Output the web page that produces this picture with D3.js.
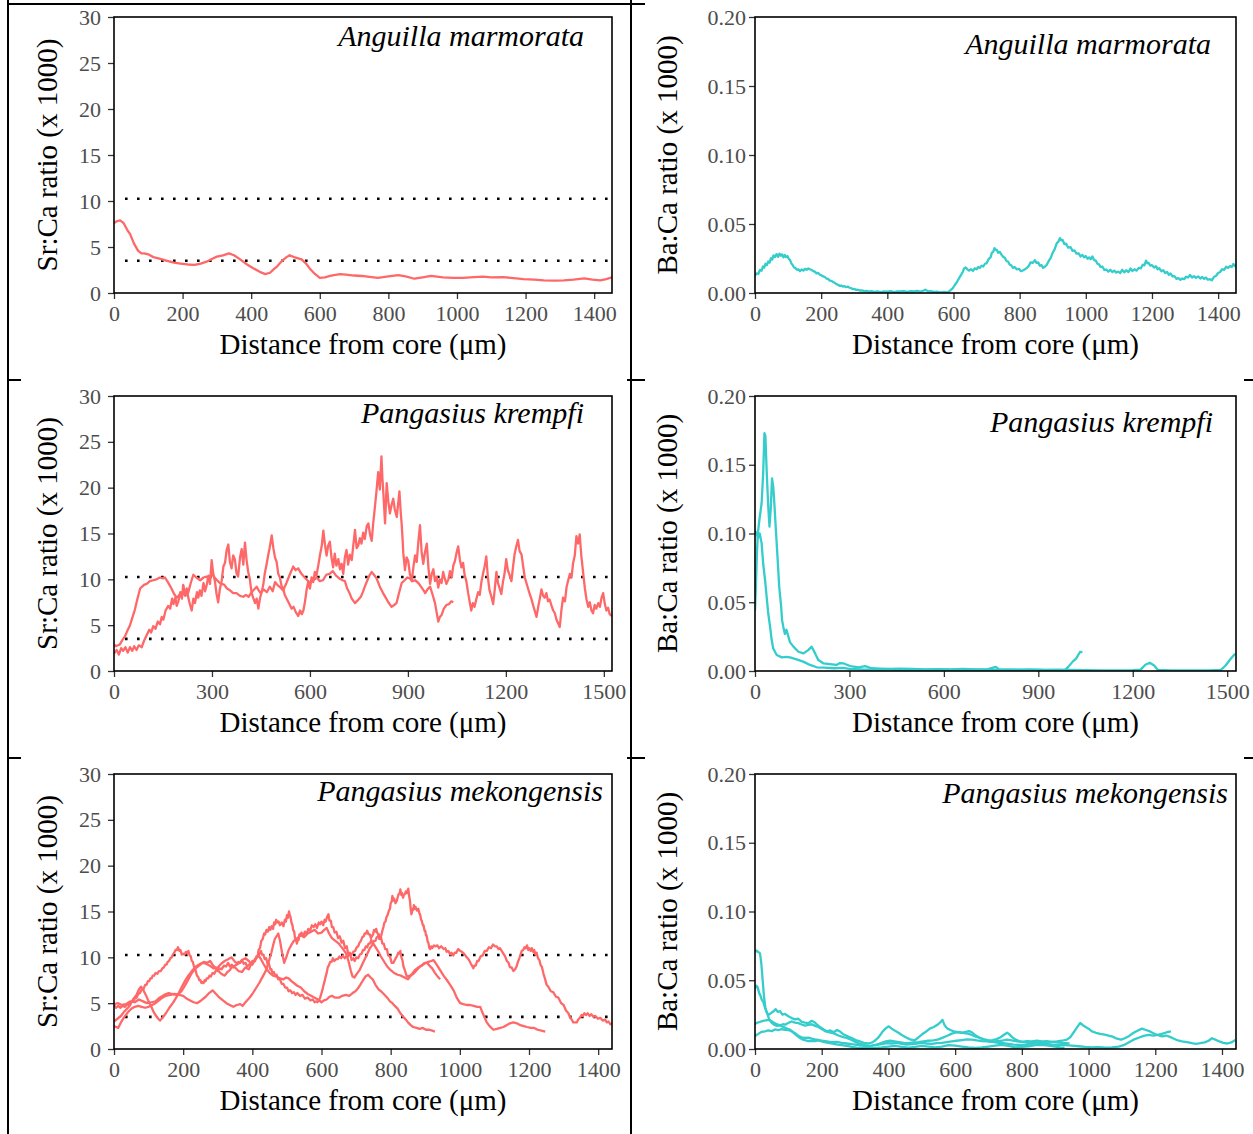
<!DOCTYPE html>
<html>
<head>
<meta charset="utf-8">
<script src="https://cdnjs.cloudflare.com/ajax/libs/d3/7.8.5/d3.min.js"></script>
<style>
body { margin: 0; background: #fff; }
svg text { font-family: "Liberation Serif", "Times New Roman", serif; }
</style>
</head>
<body>
<svg id="chart"></svg>
<script>
var width = 1253;
var height = 1134;

// tick values
var xTicks200 = [0, 200, 400, 600, 800, 1000, 1200, 1400];
var xTicks300 = [0, 300, 600, 900, 1200, 1500];
var srTicks = [0, 5, 10, 15, 20, 25, 30];
var baTicks = [0, 0.05, 0.10, 0.15, 0.20];
var srRefLines = [3.5, 10.25]; // dotted reference levels on the Sr:Ca panels

// Sr:Ca, Anguilla marmorata  [distance from core, ratio]
var srAnguilla = [[0,7.6],[8,7.8],[18,7.9],[28,7.6],[38,6.9],[47,6.4],[58,5.4],[70,4.6],[80,4.3],[88,4.3],[100,4.2],[115,3.9],[135,3.7],[155,3.5],[175,3.3],[194,3.2],[215,3.1],[235,3.05],[253,3.2],[270,3.4],[285,3.7],[300,3.95],[318,4.1],[335,4.3],[350,4.1],[370,3.6],[388,3.1],[406,2.7],[425,2.3],[441,2.05],[455,2.2],[466,2.6],[476,2.9],[490,3.5],[503,3.9],[512,4.1],[525,3.9],[547,3.65],[560,3.2],[570,2.7],[585,2.1],[600,1.65],[615,1.7],[630,1.85],[641,1.95],[660,2.05],[676,2.0],[700,1.9],[723,1.85],[745,1.75],[770,1.65],[800,1.8],[829,1.95],[850,1.8],[876,1.55],[900,1.7],[924,1.85],[959,1.7],[990,1.65],[1018,1.65],[1050,1.72],[1076,1.78],[1100,1.7],[1135,1.72],[1165,1.62],[1194,1.5],[1225,1.45],[1253,1.37],[1285,1.35],[1312,1.37],[1340,1.45],[1371,1.6],[1395,1.45],[1418,1.37],[1435,1.5],[1452,1.7]];

// Ba:Ca, Anguilla marmorata
var baAnguilla = [[0,0.0126],[5,0.0142],[10,0.0138],[15,0.0168],[20,0.0162],[24,0.0192],[28,0.0185],[32,0.0212],[36,0.0202],[40,0.0228],[44,0.022],[48,0.0252],[52,0.0242],[56,0.0272],[60,0.026],[65,0.0282],[70,0.0262],[74,0.0285],[78,0.027],[82,0.028],[86,0.0258],[90,0.0275],[94,0.026],[98,0.0268],[102,0.0248],[106,0.0238],[110,0.0215],[114,0.0202],[118,0.0185],[122,0.0182],[127,0.0168],[131,0.0172],[136,0.0158],[141,0.017],[146,0.0162],[151,0.0175],[156,0.0168],[161,0.0178],[166,0.0172],[171,0.0168],[176,0.0158],[181,0.0155],[186,0.0142],[191,0.0145],[196,0.0132],[201,0.0128],[206,0.012],[211,0.0116],[216,0.0105],[221,0.0102],[226,0.009],[231,0.0088],[236,0.008],[241,0.0074],[246,0.0064],[251,0.006],[256,0.0052],[261,0.0054],[266,0.0046],[271,0.0049],[276,0.0042],[281,0.0046],[286,0.0038],[291,0.0035],[296,0.0028],[301,0.0029],[306,0.0022],[311,0.0024],[316,0.0018],[323,0.0019],[330,0.0013],[338,0.0015],[345,0.001],[352,0.0013],[360,0.0008],[370,0.0011],[380,0.0006],[390,0.0012],[400,0.001],[410,0.0014],[420,0.0007],[430,0.0012],[440,0.0011],[450,0.0014],[460,0.0008],[470,0.0013],[480,0.0011],[490,0.0015],[500,0.001],[508,0.0016],[515,0.0024],[520,0.0016],[525,0.0011],[532,0.0013],[540,0.0008],[550,0.001],[560,0.0005],[570,0.0008],[581,0.0004],[587,0.0012],[592,0.0022],[598,0.0035],[604,0.0058],[610,0.0078],[617,0.0108],[622,0.0128],[628,0.0152],[632,0.0178],[637,0.0185],[642,0.0172],[647,0.0162],[653,0.0172],[659,0.016],[664,0.0178],[670,0.0172],[675,0.0188],[680,0.0182],[685,0.0198],[690,0.0192],[695,0.0212],[700,0.0215],[706,0.0245],[712,0.0258],[716,0.0292],[720,0.0298],[724,0.0325],[727,0.0315],[731,0.0312],[735,0.0292],[740,0.0298],[745,0.0278],[750,0.0262],[755,0.0255],[760,0.0232],[765,0.0228],[770,0.0205],[774,0.0202],[780,0.0182],[785,0.0188],[791,0.0172],[798,0.0175],[804,0.0158],[811,0.0165],[816,0.0172],[822,0.0182],[828,0.0198],[833,0.0222],[840,0.0218],[846,0.0238],[851,0.0218],[856,0.0222],[861,0.0198],[866,0.0202],[871,0.0182],[876,0.019],[882,0.0205],[888,0.0232],[894,0.0255],[900,0.0292],[906,0.0318],[912,0.036],[917,0.0372],[922,0.0398],[926,0.0382],[930,0.0385],[935,0.0355],[940,0.0358],[947,0.0328],[954,0.0332],[960,0.0305],[966,0.0308],[972,0.0285],[978,0.0288],[984,0.0265],[990,0.0275],[995,0.0258],[1000,0.0268],[1005,0.0248],[1010,0.0258],[1015,0.0245],[1020,0.0265],[1025,0.0238],[1030,0.0235],[1035,0.0212],[1040,0.0208],[1045,0.0188],[1050,0.0192],[1056,0.0168],[1062,0.017],[1068,0.0155],[1074,0.0168],[1080,0.0152],[1086,0.0162],[1092,0.0148],[1098,0.0155],[1104,0.0145],[1110,0.0168],[1116,0.015],[1123,0.0165],[1129,0.0152],[1135,0.0178],[1141,0.016],[1147,0.0172],[1153,0.0162],[1160,0.0182],[1166,0.0178],[1172,0.0205],[1177,0.02],[1182,0.0235],[1186,0.0215],[1190,0.0218],[1195,0.0198],[1200,0.0202],[1206,0.0185],[1212,0.0195],[1217,0.0172],[1222,0.018],[1228,0.0158],[1234,0.0165],[1240,0.0145],[1246,0.0152],[1251,0.0132],[1256,0.0142],[1262,0.012],[1268,0.0122],[1274,0.0102],[1280,0.0108],[1286,0.0096],[1291,0.0105],[1297,0.01],[1303,0.0118],[1309,0.0112],[1315,0.013],[1321,0.0112],[1327,0.0122],[1333,0.011],[1340,0.012],[1346,0.0105],[1352,0.0116],[1358,0.0102],[1363,0.0112],[1369,0.0096],[1375,0.01],[1381,0.0092],[1388,0.0118],[1394,0.0125],[1400,0.0145],[1406,0.0152],[1412,0.0172],[1418,0.0168],[1424,0.019],[1430,0.0182],[1436,0.0195],[1441,0.0188],[1446,0.021],[1450,0.0196],[1454,0.02]];

// Sr:Ca, Pangasius krempfi (two fish)
var srKrempfiA = [[0,1.9],[8,2.3],[15,1.8],[22,2.5],[28,2.2],[35,2.6],[42,2.0],[49,2.6],[56,2.2],[62,2.7],[69,2.3],[76,2.8],[85,2.6],[92,3.3],[100,3.9],[108,4.5],[114,4.2],[120,4.9],[127,4.6],[134,5.4],[141,5.1],[146,5.9],[151,5.6],[158,6.6],[166,7.1],[172,6.8],[178,7.9],[182,7.3],[188,8.0],[192,7.1],[197,7.6],[203,8.6],[208,7.9],[212,9.4],[218,8.4],[223,9.0],[228,7.9],[233,7.2],[238,6.6],[243,7.9],[248,7.4],[254,8.6],[258,8.0],[263,8.8],[268,8.2],[274,9.6],[279,8.7],[284,9.4],[289,10.4],[294,9.5],[299,12.1],[304,10.6],[309,9.8],[314,8.4],[319,7.5],[324,8.9],[330,9.9],[335,11.4],[340,11.8],[345,13.2],[350,13.8],[355,11.9],[360,11.2],[365,12.6],[370,12.2],[375,10.7],[380,10.3],[386,12.4],[391,13.3],[396,11.6],[401,14.0],[406,12.1],[411,10.8],[416,10.0],[421,8.6],[426,8.0],[432,7.4],[437,7.9],[442,6.8],[447,7.9],[452,8.6],[457,9.4],[462,10.7],[467,11.6],[472,12.6],[477,13.5],[483,14.8],[488,13.4],[493,12.4],[498,11.9],[503,10.6],[508,10.2],[513,9.3],[518,9.0],[523,8.3],[530,7.8],[537,7.3],[544,6.8],[550,7.0],[557,6.4],[564,6.0],[570,6.6],[575,6.2],[580,6.6],[585,7.6],[590,8.9],[595,9.8],[600,9.0],[605,10.2],[610,9.7],[615,10.8],[620,10.4],[626,11.6],[631,12.7],[636,13.6],[641,15.3],[646,13.8],[651,12.6],[656,13.7],[661,14.1],[666,12.4],[671,11.3],[676,12.8],[681,11.5],[687,12.2],[692,11.1],[697,11.7],[702,10.6],[707,12.4],[712,13.2],[717,11.6],[722,12.7],[728,12.1],[733,13.8],[738,15.4],[743,13.4],[748,13.7],[753,14.5],[758,13.9],[763,15.1],[768,14.4],[774,15.8],[779,16.1],[784,14.9],[789,14.2],[794,16.2],[799,17.9],[804,19.7],[809,21.7],[814,19.8],[819,23.4],[822,21.0],[825,19.3],[828,17.4],[830,16.1],[833,18.6],[835,20.5],[840,18.5],[845,17.2],[850,18.1],[855,18.8],[860,17.6],[866,16.8],[870,18.2],[874,19.6],[878,17.3],[881,16.0],[884,14.2],[886,12.8],[889,11.8],[891,11.0],[896,12.4],[901,12.0],[906,10.6],[912,9.8],[917,11.4],[922,12.6],[927,11.9],[932,14.1],[937,15.9],[942,13.0],[947,11.7],[952,12.9],[958,13.9],[963,11.2],[968,9.5],[973,10.6],[978,11.1],[983,9.8],[988,10.3],[993,9.1],[998,10.0],[1003,9.6],[1008,10.8],[1013,10.1],[1018,9.5],[1024,10.0],[1029,10.9],[1034,10.2],[1039,11.5],[1044,12.0],[1049,12.9],[1054,13.6],[1059,12.2],[1064,11.3],[1069,11.8],[1074,10.4],[1079,9.8],[1084,8.6],[1089,7.6],[1094,6.6],[1099,7.4],[1104,7.0],[1110,7.9],[1115,8.6],[1120,8.3],[1125,9.7],[1130,10.6],[1135,11.4],[1140,12.5],[1145,10.2],[1150,8.8],[1155,8.2],[1161,7.3],[1166,8.9],[1171,10.8],[1176,9.6],[1181,9.0],[1186,8.4],[1191,9.7],[1196,10.6],[1201,12.2],[1206,11.0],[1212,10.4],[1217,9.8],[1222,11.4],[1227,12.8],[1232,13.6],[1237,14.3],[1242,13.1],[1248,12.7],[1253,11.4],[1258,10.2],[1263,9.6],[1268,9.0],[1273,8.4],[1278,7.9],[1284,7.1],[1289,6.5],[1294,5.9],[1299,7.0],[1304,7.9],[1309,8.9],[1314,8.2],[1319,8.0],[1324,8.5],[1329,7.6],[1334,7.8],[1340,7.1],[1345,6.6],[1350,6.3],[1355,5.6],[1360,5.2],[1365,4.8],[1370,6.6],[1375,8.0],[1381,7.6],[1386,9.2],[1391,9.9],[1396,10.6],[1401,10.2],[1406,11.8],[1411,12.6],[1416,14.7],[1421,13.9],[1426,14.9],[1431,12.6],[1437,10.6],[1442,9.0],[1447,7.8],[1452,7.0],[1457,7.5],[1462,6.6],[1467,6.3],[1472,7.2],[1477,6.8],[1483,7.4],[1488,7.0],[1493,8.0],[1498,8.5],[1503,7.3],[1508,6.6],[1513,6.9],[1518,6.2],[1524,6.0]];
var srKrempfiB = [[0,2.9],[6,2.7],[12,2.8],[18,2.9],[26,3.4],[34,3.8],[41,4.4],[49,5.0],[56,5.8],[64,6.7],[72,7.9],[80,9.0],[86,9.2],[92,9.4],[100,9.5],[110,9.8],[120,9.9],[130,10.0],[141,10.2],[150,10.1],[156,10.2],[165,9.7],[176,9.0],[184,8.4],[192,8.0],[200,8.3],[210,8.6],[218,8.2],[227,8.5],[235,9.6],[243,10.5],[252,10.2],[264,9.9],[274,10.2],[284,10.3],[292,10.0],[300,10.6],[310,10.1],[324,9.6],[338,9.4],[346,9.0],[355,8.8],[365,8.5],[375,8.5],[386,8.2],[396,8.1],[404,8.3],[412,8.1],[424,8.7],[437,9.2],[443,8.8],[449,8.5],[458,8.9],[468,8.6],[477,9.2],[486,8.7],[493,9.7],[500,9.4],[510,9.1],[518,8.8],[528,9.6],[538,10.5],[549,11.4],[556,11.0],[564,11.2],[574,10.6],[584,10.2],[592,9.9],[600,9.6],[610,9.9],[621,10.2],[630,9.8],[640,9.9],[650,10.5],[660,10.6],[670,10.9],[680,10.4],[690,10.1],[700,9.9],[707,9.8],[714,9.0],[720,8.6],[728,7.9],[738,7.4],[746,7.7],[756,8.1],[762,8.6],[768,9.2],[776,9.9],[782,10.4],[789,10.8],[796,10.5],[804,10.1],[814,9.2],[824,8.5],[832,8.0],[840,7.5],[850,7.0],[858,7.2],[865,7.4],[872,8.4],[881,9.6],[890,9.9],[898,10.2],[906,10.1],[914,9.8],[922,9.9],[932,9.6],[940,9.2],[948,8.8],[953,8.5],[960,8.9],[968,9.2],[975,8.4],[983,7.4],[988,6.4],[993,5.4],[998,5.9],[1003,6.1],[1010,6.8],[1018,7.2],[1026,7.3],[1033,7.6],[1039,7.5]];

// Ba:Ca, Pangasius krempfi
var baKrempfiA = [[0,0.044],[3,0.062],[6,0.085],[9,0.1],[14,0.11],[21,0.122],[26,0.144],[30,0.173],[33,0.171],[37,0.146],[42,0.12],[46,0.105],[50,0.118],[54,0.14],[58,0.134],[62,0.12],[67,0.1],[72,0.081],[77,0.061],[83,0.047],[86,0.037],[90,0.032],[95,0.027],[100,0.03],[106,0.025],[111,0.021],[122,0.0177],[138,0.014],[154,0.0128],[169,0.0152],[180,0.0177],[191,0.0128],[201,0.008],[217,0.0056],[238,0.005],[259,0.0044],[270,0.0058],[280,0.0056],[302,0.0036],[330,0.0027],[350,0.0035],[370,0.002],[400,0.0018],[430,0.0015],[460,0.0018],[500,0.0015],[540,0.0012],[580,0.0013],[620,0.0012],[660,0.0015],[700,0.0012],[740,0.0013],[765,0.003],[775,0.0012],[820,0.001],[870,0.0012],[920,0.0008],[960,0.001],[1000,0.0008],[1050,0.0006],[1100,0.0005],[1150,0.0005],[1200,0.0006],[1225,0.001],[1240,0.0045],[1254,0.006],[1268,0.004],[1280,0.0008],[1320,0.0004],[1380,0.0005],[1440,0.0005],[1480,0.0008],[1495,0.004],[1510,0.0085],[1525,0.0125]];
var baKrempfiB = [[0,0.102],[5,0.1],[10,0.097],[15,0.1],[21,0.093],[26,0.078],[32,0.066],[37,0.054],[42,0.042],[48,0.032],[53,0.0225],[58,0.0164],[69,0.0116],[85,0.0099],[100,0.0102],[111,0.0099],[132,0.0085],[153,0.0068],[175,0.0044],[196,0.0027],[220,0.0025],[250,0.002],[280,0.0022],[300,0.0015],[350,0.001],[400,0.0012],[450,0.0008],[500,0.001],[550,0.0008],[600,0.0009],[650,0.0007],[700,0.001],[750,0.0008],[800,0.0009],[850,0.0007],[900,0.0008],[950,0.0007],[985,0.0008],[995,0.003],[1010,0.007],[1020,0.009],[1033,0.014],[1040,0.0135]];

// Sr:Ca, Pangasius mekongensis (four fish)
var srMekong1 = [[0,3.0],[10,3.3],[20,3.6],[30,4.1],[45,4.7],[55,5.4],[65,5.9],[72,6.5],[78,6.8],[85,6.4],[92,5.9],[100,5.2],[108,4.6],[115,4.0],[122,3.6],[128,3.3],[133,3.1],[140,3.4],[150,3.9],[160,4.5],[170,5.0],[178,5.5],[186,6.0],[195,6.7],[205,7.4],[215,8.0],[225,8.5],[237,9.0],[250,9.3],[260,9.5],[270,9.4],[278,9.6],[285,9.2],[292,8.9],[300,8.6],[310,8.2],[320,8.0],[328,8.4],[335,8.6],[343,9.1],[350,8.9],[360,8.5],[370,8.4],[380,8.9],[390,8.7],[398,9.4],[405,9.6],[412,10.0],[418,10.2],[425,9.8],[432,9.3],[440,8.8],[450,8.3],[460,8.0],[470,7.9],[480,7.7],[490,7.6],[498,7.8],[505,7.7],[513,7.4],[520,7.2],[530,6.9],[540,6.7],[550,6.3],[560,6.0],[570,5.8],[580,5.6],[590,5.4],[600,5.1],[607,5.3],[615,5.4],[623,5.7],[630,5.8],[640,5.6],[650,5.6],[660,5.8],[670,5.9],[680,5.8],[690,6.1],[698,6.3],[705,6.6],[712,7.0],[720,7.5],[727,7.9],[735,8.1],[742,7.8],[748,7.6],[756,7.0],[765,6.5],[772,6.3],[780,6.0],[790,5.6],[798,5.2],[805,5.0],[812,4.7],[820,4.4],[828,3.9],[837,3.5],[844,3.2],[850,2.9],[858,2.6],[865,2.4],[875,2.3],[884,2.2],[893,2.3],[902,2.1],[912,2.1],[920,2.0],[928,1.9]];
var srMekong2 = [[0,4.8],[6,4.5],[12,4.7],[18,4.5],[25,4.7],[32,4.6],[38,4.9],[44,4.8],[50,5.1],[55,5.2],[60,5.5],[65,5.6],[70,6.0],[75,6.1],[80,6.5],[85,6.5],[90,7.0],[94,7.0],[98,7.4],[102,7.4],[105,7.7],[109,7.7],[112,8.0],[116,8.0],[120,8.3],[125,8.2],[130,8.5],[135,8.5],[140,8.8],[144,8.9],[148,9.2],[152,9.2],[155,9.5],[159,9.6],[163,9.9],[167,10.0],[170,10.3],[174,10.5],[178,10.8],[182,10.8],[185,11.1],[189,10.7],[192,10.8],[196,10.3],[200,10.4],[204,10.3],[208,10.6],[212,10.4],[215,10.7],[219,10.2],[222,10.1],[225,9.6],[228,9.5],[232,8.9],[236,8.6],[240,8.0],[243,7.9],[247,7.5],[250,7.5],[253,7.2],[255,7.3],[259,7.2],[262,7.5],[265,7.4],[268,7.7],[272,7.7],[276,8.0],[280,7.9],[285,8.3],[290,8.2],[295,8.6],[300,8.5],[305,8.8],[311,8.7],[318,9.1],[324,9.0],[330,9.4],[335,9.0],[340,9.2],[345,8.9],[350,9.1],[355,9.2],[360,9.5],[365,9.4],[370,9.7],[375,9.3],[380,9.4],[385,9.0],[390,9.2],[395,9.3],[400,9.6],[405,9.6],[410,9.9],[414,10.0],[418,10.4],[421,10.4],[425,10.7],[428,10.3],[432,10.3],[436,9.8],[440,9.9],[444,9.3],[448,9.3],[452,8.7],[455,8.7],[458,8.3],[462,8.4],[466,8.0],[470,8.1],[475,7.6],[480,7.6],[485,7.1],[490,7.1],[495,6.7],[500,6.7],[505,6.3],[510,6.4],[515,6.1],[520,6.2],[525,5.9],[530,6.1],[538,5.8],[545,5.9],[552,5.5],[560,5.6],[568,5.3],[575,5.4],[580,5.1],[585,5.2],[588,5.1],[592,5.3],[596,5.6],[600,6.1],[603,6.5],[606,7.0],[609,7.4],[612,7.9],[615,8.3],[618,8.9],[621,9.1],[625,9.5],[629,9.5],[633,9.9],[637,9.6],[642,9.8],[647,9.8],[652,10.1],[657,9.9],[662,10.2],[667,9.9],[672,10.1],[677,10.1],[682,10.4],[687,10.3],[692,10.6],[697,10.7],[702,11.1],[706,11.2],[710,11.6],[714,11.8],[718,12.2],[722,12.3],[725,12.6],[729,12.6],[732,12.9],[736,12.5],[740,12.5],[743,12.1],[746,12.3],[749,12.5],[752,13.0],[755,12.8],[758,13.1],[761,12.7],[764,12.5],[767,12.0],[770,12.1],[773,12.4],[776,12.9],[779,13.3],[782,13.8],[785,13.9],[788,14.4],[791,14.6],[795,15.1],[798,15.3],[800,15.9],[803,16.1],[805,16.7],[808,16.2],[810,16.4],[814,15.9],[818,16.2],[820,16.5],[823,16.9],[826,17.0],[828,17.4],[831,16.8],[833,17.0],[836,16.5],[838,16.8],[841,16.9],[844,17.2],[847,17.0],[851,17.5],[853,16.8],[856,16.1],[858,15.2],[860,14.7],[862,15.0],[864,15.3],[866,15.2],[867,15.7],[870,15.3],[872,15.5],[876,15.1],[880,15.3],[883,14.8],[885,14.7],[888,14.1],[890,14.0],[893,13.5],[895,13.5],[898,12.9],[900,12.9],[902,12.4],[904,12.4],[907,11.7],[909,11.6],[912,11.0],[914,10.9],[917,11.2],[920,11.0],[925,11.3],[929,11.2],[935,11.3],[940,11.0],[946,11.2],[953,10.9],[958,11.0],[962,10.6],[967,10.7],[972,10.3],[976,10.5],[981,10.2],[985,10.5],[990,10.5],[995,10.9],[1001,10.7],[1006,10.6],[1012,10.4],[1018,10.1],[1025,9.8],[1028,9.6],[1032,9.3],[1035,9.1],[1039,8.8],[1042,9.1],[1046,9.1],[1050,9.6],[1054,9.6],[1060,10.1],[1066,10.2],[1072,10.7],[1078,10.7],[1084,11.1],[1090,11.0],[1096,11.4],[1102,11.2],[1107,11.2],[1112,10.9],[1116,11.0],[1121,10.7],[1126,10.4],[1131,10.1],[1136,9.6],[1141,9.4],[1145,8.9],[1150,8.9],[1155,8.5],[1160,8.7],[1164,9.0],[1168,9.5],[1173,10.0],[1179,10.7],[1183,10.8],[1187,11.1],[1191,11.0],[1194,11.3],[1198,10.8],[1201,11.0],[1205,10.7],[1208,11.0],[1212,10.6],[1215,10.8],[1219,10.3],[1222,10.5],[1226,9.9],[1230,9.7],[1234,9.1],[1237,9.0],[1242,8.2],[1246,7.7],[1251,7.0],[1256,6.8],[1263,6.3],[1270,6.2],[1278,5.7],[1285,5.6],[1293,5.0],[1300,4.8],[1307,4.2],[1314,3.9],[1319,3.4],[1324,3.2],[1328,2.9],[1333,2.9],[1338,2.9],[1342,3.2],[1347,3.4],[1352,3.7],[1356,3.6],[1360,3.9],[1365,3.7],[1370,3.9],[1375,3.6],[1380,3.8],[1386,3.5],[1392,3.6],[1399,3.3],[1406,3.4],[1413,3.1],[1420,3.2],[1425,2.9],[1430,3.0],[1435,2.7],[1440,2.8]];
var srMekong3 = [[0,4.9],[12,5.0],[22,4.8],[35,4.9],[48,5.2],[60,5.1],[72,5.4],[84,5.2],[96,5.0],[108,5.1],[120,5.2],[132,5.6],[145,5.9],[158,6.1],[170,6.0],[182,5.9],[195,6.3],[205,6.9],[215,7.6],[225,8.3],[236,8.8],[246,9.1],[256,9.4],[266,9.3],[276,9.1],[288,8.8],[300,8.9],[310,9.3],[320,9.6],[330,9.8],[340,10.0],[350,9.5],[360,9.3],[370,9.7],[380,9.9],[390,9.6],[400,9.2],[404,9.5],[408,9.6],[412,10.1],[415,10.0],[418,10.8],[422,11.0],[426,11.8],[430,12.0],[434,12.6],[437,12.5],[441,13.0],[445,12.8],[449,13.3],[452,13.0],[456,13.4],[460,13.1],[463,13.8],[466,13.6],[469,14.1],[472,13.8],[476,13.9],[480,13.5],[485,13.8],[490,13.4],[494,14.1],[497,13.9],[500,14.6],[503,14.3],[506,15.0],[508,14.7],[511,14.3],[513,13.8],[516,13.5],[518,13.0],[521,12.8],[523,12.2],[526,11.9],[529,11.5],[532,12.0],[534,11.9],[536,12.5],[538,12.4],[542,12.7],[547,12.3],[552,12.8],[557,12.6],[562,13.1],[567,12.9],[572,13.5],[577,13.3],[582,13.6],[587,13.2],[592,13.8],[596,13.6],[600,13.9],[605,13.5],[609,14.1],[612,13.9],[616,14.4],[620,14.7],[623,14.0],[627,14.0],[630,13.3],[634,13.3],[638,12.7],[643,12.8],[648,12.1],[653,12.3],[658,11.6],[663,11.8],[668,11.0],[673,11.2],[677,10.4],[682,10.5],[687,9.7],[692,9.9],[696,9.6],[701,10.0],[706,9.9],[711,10.3],[716,10.4],[720,10.8],[724,10.8],[728,11.2],[732,11.1],[736,11.5],[740,11.5],[744,11.9],[748,11.5],[752,11.8],[756,11.8],[760,12.2],[763,12.2],[766,12.5],[769,12.0],[772,12.2],[776,11.5],[780,11.5],[784,10.9],[789,10.9],[793,10.2],[798,10.1],[803,9.4],[808,9.4],[812,9.7],[816,10.0],[819,10.2],[822,10.5],[825,10.4],[828,10.7],[831,10.0],[834,9.7],[837,9.0],[840,8.7],[847,7.9],[856,8.0],[866,8.2],[875,8.6],[885,9.0],[897,9.3],[909,9.5],[917,9.6],[924,9.7],[933,9.2],[943,8.6],[953,8.0],[963,7.5],[972,7.0],[982,6.4],[991,5.6],[1001,5.0],[1010,4.9],[1020,4.8],[1030,4.8],[1040,4.7],[1050,4.6],[1059,4.6],[1065,4.0],[1072,3.4],[1078,2.9],[1086,2.5],[1097,2.1],[1107,2.2],[1117,2.3],[1126,2.4],[1135,2.6],[1145,2.8],[1155,2.9],[1165,2.8],[1175,2.6],[1185,2.5],[1194,2.4],[1205,2.3],[1215,2.3],[1225,2.1],[1236,2.0],[1247,1.9]];
var srMekong4 = [[0,2.5],[6,2.4],[12,2.3],[20,2.9],[30,3.5],[40,4.0],[50,4.4],[60,4.6],[70,4.7],[80,4.6],[90,4.5],[100,4.6],[110,4.8],[120,5.0],[130,5.3],[140,5.6],[150,5.8],[162,5.9],[175,6.0],[188,5.9],[200,5.8],[210,5.5],[220,5.3],[230,5.1],[240,5.0],[252,5.3],[265,5.7],[275,6.1],[285,6.4],[295,6.0],[305,5.6],[315,5.3],[325,5.0],[335,4.8],[345,4.6],[355,4.8],[365,4.9],[372,4.7],[380,5.1],[390,5.5],[400,6.0],[410,6.6],[420,7.2],[430,7.9],[440,8.6],[448,9.6],[455,10.5],[460,11.3],[465,12.0],[470,12.3],[475,12.6],[480,11.8],[486,10.5],[492,9.4],[498,10.0],[505,10.8],[512,11.3],[520,11.8],[530,12.1],[540,12.4],[550,12.2],[560,12.6],[570,12.8],[580,13.0],[590,12.6],[600,12.7],[608,13.0],[615,13.2],[622,12.6],[630,12.1],[640,11.8],[650,11.5],[660,11.0],[670,10.5],[678,9.6],[685,8.5],[690,7.9],[695,7.8],[702,8.2],[710,8.6],[720,9.4],[730,10.2],[740,11.0],[750,11.5],[758,11.0],[765,10.6],[770,10.2],[780,9.6],[790,9.0],[800,8.6],[810,8.3],[820,8.1],[830,8.0],[840,7.8],[850,7.6],[860,8.1],[870,8.6],[880,8.9],[890,9.1],[898,9.4],[905,9.4],[912,9.1],[920,8.8],[928,8.3],[936,7.9],[943,7.6]];

// Ba:Ca, Pangasius mekongensis
var baMekong1 = [[0,0.0095],[10,0.011],[20,0.0125],[30,0.0128],[40,0.0135],[50,0.013],[60,0.0142],[70,0.0138],[80,0.0145],[90,0.014],[100,0.0138],[110,0.0128],[120,0.0115],[130,0.0095],[140,0.0085],[150,0.008],[160,0.0082],[170,0.0075],[180,0.007],[190,0.0066],[200,0.006],[215,0.0055],[230,0.005],[245,0.0052],[260,0.0045],[275,0.004],[290,0.0035],[305,0.003],[320,0.0025],[335,0.0022],[350,0.0025],[365,0.003],[380,0.0035],[395,0.0042],[410,0.004],[425,0.0045],[440,0.0038],[455,0.0032],[470,0.0035],[485,0.004],[500,0.0045],[515,0.004],[530,0.0038],[545,0.0042],[560,0.0045],[575,0.005],[590,0.0055],[605,0.006],[620,0.0065],[635,0.007],[650,0.0068],[665,0.0062],[680,0.0058],[695,0.0055],[710,0.0052],[725,0.0058],[740,0.006],[755,0.0068],[770,0.0062],[785,0.0055],[800,0.0052],[815,0.0058],[830,0.0055],[845,0.006],[860,0.0055],[875,0.0058],[890,0.0052],[905,0.0055],[920,0.006],[935,0.0068],[945,0.0085],[955,0.012],[965,0.0155],[975,0.019],[982,0.0175],[990,0.0162],[1000,0.0148],[1010,0.0128],[1022,0.0118],[1035,0.011],[1048,0.0105],[1060,0.0098],[1072,0.009],[1085,0.0075],[1098,0.0068],[1110,0.008],[1122,0.0095],[1135,0.0118],[1148,0.0135],[1160,0.0148],[1172,0.0138],[1184,0.0128],[1196,0.0112],[1208,0.01],[1220,0.0092],[1232,0.0098],[1244,0.0088],[1256,0.0075],[1268,0.0062],[1280,0.0055],[1295,0.005],[1310,0.0042],[1322,0.0038],[1335,0.0042],[1348,0.0048],[1360,0.006],[1370,0.0078],[1380,0.0068],[1392,0.0055],[1404,0.0045],[1416,0.004],[1428,0.0048],[1440,0.0065]];
var baMekong2 = [[0,0.071],[5,0.0715],[10,0.0705],[15,0.0695],[19,0.062],[23,0.05],[27,0.038],[31,0.03],[36,0.026],[42,0.025],[50,0.0265],[56,0.0275],[62,0.029],[68,0.027],[75,0.0275],[82,0.025],[90,0.0255],[100,0.0238],[110,0.0225],[120,0.0215],[130,0.022],[140,0.0198],[150,0.0192],[160,0.0188],[170,0.0205],[178,0.0195],[186,0.0178],[196,0.0158],[206,0.0142],[216,0.0128],[226,0.0135],[236,0.0122],[246,0.0138],[256,0.0125],[266,0.0105],[278,0.0092],[290,0.008],[302,0.0065],[314,0.0055],[326,0.0045],[340,0.004],[352,0.0048],[362,0.0065],[372,0.009],[382,0.0125],[392,0.015],[400,0.0165],[410,0.0148],[420,0.0132],[430,0.0118],[440,0.0102],[452,0.0085],[465,0.007],[478,0.0062],[490,0.0085],[500,0.0105],[512,0.0125],[524,0.0148],[536,0.016],[548,0.0178],[556,0.0195],[562,0.0212],[568,0.0175],[576,0.015],[586,0.0138],[596,0.0128],[608,0.0122],[620,0.0118],[632,0.0125],[642,0.013],[652,0.0118],[662,0.0098],[674,0.008],[688,0.0065],[702,0.0055],[716,0.005],[730,0.0045],[745,0.0042],[760,0.0038],[775,0.0032],[790,0.003],[810,0.0028],[830,0.003],[850,0.0035],[870,0.0038],[890,0.0032],[910,0.003],[930,0.0028],[950,0.0025],[970,0.002],[990,0.0015],[1010,0.0012],[1030,0.0014],[1050,0.001],[1070,0.0012],[1090,0.0018],[1105,0.0028],[1120,0.0048],[1135,0.0068],[1150,0.0082],[1165,0.0095],[1180,0.0102],[1195,0.0098],[1210,0.0105],[1222,0.0112],[1235,0.0122],[1247,0.0128]];
var baMekong3 = [[0,0.044],[4,0.046],[8,0.045],[12,0.041],[16,0.039],[20,0.036],[25,0.034],[30,0.03],[35,0.027],[42,0.022],[50,0.019],[58,0.0175],[66,0.0168],[75,0.0172],[84,0.018],[92,0.0178],[100,0.019],[110,0.02],[120,0.0192],[130,0.0188],[140,0.0178],[150,0.017],[160,0.0176],[170,0.018],[180,0.0168],[190,0.016],[200,0.0145],[210,0.013],[220,0.0122],[230,0.0118],[240,0.011],[250,0.0098],[262,0.0088],[275,0.008],[288,0.0068],[300,0.0052],[312,0.004],[325,0.003],[338,0.0022],[350,0.0025],[365,0.0032],[380,0.0045],[392,0.0055],[405,0.006],[418,0.0055],[432,0.005],[446,0.0045],[460,0.0042],[475,0.0048],[490,0.005],[505,0.0055],[520,0.006],[535,0.0062],[550,0.007],[565,0.0085],[578,0.0098],[590,0.0112],[602,0.012],[614,0.0122],[626,0.0115],[638,0.0112],[650,0.0102],[662,0.009],[675,0.008],[688,0.007],[700,0.0062],[712,0.0065],[724,0.0072],[736,0.0085],[748,0.0105],[756,0.0118],[762,0.0108],[770,0.0088],[780,0.007],[792,0.0058],[805,0.005],[818,0.0045],[832,0.0042],[846,0.0048],[860,0.005],[875,0.0046],[890,0.0052],[905,0.0048],[920,0.0044],[932,0.0042],[943,0.004]];
var baMekong4 = [[0,0.0182],[8,0.0192],[16,0.0198],[24,0.0205],[32,0.0208],[40,0.0212],[48,0.0205],[56,0.0192],[64,0.0182],[72,0.0175],[80,0.0165],[88,0.0158],[96,0.0148],[104,0.0142],[112,0.0128],[120,0.0108],[128,0.0092],[136,0.0078],[144,0.0068],[152,0.0062],[160,0.0058],[170,0.006],[180,0.0058],[190,0.0062],[200,0.0055],[212,0.0048],[224,0.0042],[236,0.0038],[248,0.0032],[260,0.0028],[275,0.0022],[290,0.0015],[305,0.001],[320,0.0008],[340,0.0006],[360,0.0008],[380,0.0012],[400,0.0018],[420,0.0022],[440,0.0015],[460,0.001],[480,0.0015],[500,0.0022],[520,0.0018],[540,0.0012],[560,0.0018],[580,0.0028],[600,0.0025],[620,0.0018],[640,0.0012],[660,0.0008],[680,0.0012],[700,0.0018],[720,0.0025],[740,0.003],[760,0.0022],[780,0.0012],[800,0.0015],[820,0.002],[840,0.0028],[860,0.003],[880,0.0025],[900,0.0018],[915,0.0012],[928,0.001]];

var srColor = "#ff6868";
var baColor = "#35cccc";

// one entry per panel: plot box, axis limits, titles and which traces go in it
var panels = [
    {left: 114, right: 612, top: 17, bottom: 293, xMax: 1452, xTicks: xTicks200, yMax: 30, yTicks: srTicks, yFmt: "d", labelGap: 7,
     yTitle: "Sr:Ca ratio (x 1000)", titleX: 57, species: "Anguilla marmorata", spX: 584, spY: 46,
     series: [srAnguilla], color: srColor, refs: srRefLines},
    {left: 755, right: 1236, top: 17, bottom: 293, xMax: 1454, xTicks: xTicks200, yMax: 0.2, yTicks: baTicks, yFmt: ".2f", labelGap: 3,
     yTitle: "Ba:Ca ratio (x 1000)", titleX: 677, species: "Anguilla marmorata", spX: 1211, spY: 54,
     series: [baAnguilla], color: baColor, refs: []},
    {left: 114, right: 612, top: 396, bottom: 671, xMax: 1525, xTicks: xTicks300, yMax: 30, yTicks: srTicks, yFmt: "d", labelGap: 7,
     yTitle: "Sr:Ca ratio (x 1000)", titleX: 57, species: "Pangasius krempfi", spX: 584, spY: 423,
     series: [srKrempfiB, srKrempfiA], color: srColor, refs: srRefLines},
    {left: 755, right: 1236, top: 396, bottom: 671, xMax: 1528, xTicks: xTicks300, yMax: 0.2, yTicks: baTicks, yFmt: ".2f", labelGap: 3,
     yTitle: "Ba:Ca ratio (x 1000)", titleX: 677, species: "Pangasius krempfi", spX: 1213, spY: 432,
     series: [baKrempfiB, baKrempfiA], color: baColor, refs: []},
    {left: 114, right: 612, top: 774, bottom: 1049, xMax: 1440, xTicks: xTicks200, yMax: 30, yTicks: srTicks, yFmt: "d", labelGap: 7,
     yTitle: "Sr:Ca ratio (x 1000)", titleX: 57, species: "Pangasius mekongensis", spX: 603, spY: 801,
     series: [srMekong1, srMekong2, srMekong3, srMekong4], color: srColor, refs: srRefLines},
    {left: 755, right: 1236, top: 774, bottom: 1049, xMax: 1442, xTicks: xTicks200, yMax: 0.2, yTicks: baTicks, yFmt: ".2f", labelGap: 3,
     yTitle: "Ba:Ca ratio (x 1000)", titleX: 677, species: "Pangasius mekongensis", spX: 1228, spY: 803,
     series: [baMekong1, baMekong2, baMekong3, baMekong4], color: baColor, refs: []}
];

// crop marks left over from the figure layout
var frameLines = [
    [8, 0, 8, 1134], [631, 0, 631, 1134], [8, 4, 631, 4], [631, 4, 645, 4],
    [8, 380, 21, 380], [627, 380, 645, 380], [1244, 380, 1253, 380],
    [8, 758, 21, 758], [627, 758, 645, 758], [1244, 758, 1253, 758]
];

var svg = d3.select("#chart")
    .attr("width", width)
    .attr("height", height);

svg.append("rect")
    .attr("width", width)
    .attr("height", height)
    .attr("fill", "#fff");

frameLines.forEach(function(l) {
    svg.append("line")
        .attr("x1", l[0]).attr("y1", l[1])
        .attr("x2", l[2]).attr("y2", l[3])
        .attr("stroke", "#000")
        .attr("stroke-width", 2);
});

function drawPanel(p, i) {
    var x = d3.scaleLinear().domain([0, p.xMax]).range([p.left, p.right]);
    var y = d3.scaleLinear().domain([0, p.yMax]).range([p.bottom, p.top]);
    var g = svg.append("g");

    // keep the traces inside the panel
    g.append("clipPath").attr("id", "clip" + i)
        .append("rect")
        .attr("x", p.left).attr("y", p.top)
        .attr("width", p.right - p.left).attr("height", p.bottom - p.top);

    // dotted reference levels
    p.refs.forEach(function(r) {
        g.append("line")
            .attr("x1", p.left + 11).attr("x2", p.right)
            .attr("y1", y(r)).attr("y2", y(r))
            .attr("stroke", "#000")
            .attr("stroke-width", 2.6)
            .attr("stroke-dasharray", "2.6,9.4");
    });

    var line = d3.line()
        .x(function(d) { return x(d[0]); })
        .y(function(d) { return y(d[1]); });

    g.append("g").attr("clip-path", "url(#clip" + i + ")")
        .selectAll("path")
        .data(p.series)
        .enter().append("path")
        .attr("d", line)
        .attr("fill", "none")
        .attr("stroke", p.color)
        .attr("stroke-width", 2.3)
        .attr("stroke-linejoin", "round");

    // axes
    var xAxis = d3.axisBottom(x)
        .tickValues(p.xTicks)
        .tickSize(6)
        .tickPadding(6)
        .tickFormat(d3.format("d"));
    var yAxis = d3.axisLeft(y)
        .tickValues(p.yTicks)
        .tickSize(6)
        .tickPadding(p.labelGap)
        .tickFormat(d3.format(p.yFmt));

    [g.append("g").attr("transform", "translate(0," + p.bottom + ")").call(xAxis),
     g.append("g").attr("transform", "translate(" + p.left + ",0)").call(yAxis)].forEach(function(a) {
        a.select(".domain").remove();
        a.attr("font-family", null).attr("font-size", null);
        a.selectAll("line").attr("stroke", "#333").attr("stroke-width", 1.3);
        a.selectAll("text").attr("fill", "#4d4d4d").style("font-size", "22px");
    });

    // panel border
    g.append("rect")
        .attr("x", p.left).attr("y", p.top)
        .attr("width", p.right - p.left).attr("height", p.bottom - p.top)
        .attr("fill", "none")
        .attr("stroke", "#000")
        .attr("stroke-width", 1.6);

    g.append("text")
        .attr("x", (p.left + p.right) / 2)
        .attr("y", p.bottom + 61)
        .attr("text-anchor", "middle")
        .style("font-size", "29px")
        .text("Distance from core (\u03bcm)");

    g.append("text")
        .attr("transform", "rotate(-90)")
        .attr("x", -(p.top + p.bottom) / 2)
        .attr("y", p.titleX)
        .attr("text-anchor", "middle")
        .style("font-size", "29px")
        .text(p.yTitle);

    g.append("text")
        .attr("x", p.spX)
        .attr("y", p.spY)
        .attr("text-anchor", "end")
        .style("font-size", "30px")
        .style("font-style", "italic")
        .text(p.species);
}

panels.forEach(drawPanel);
</script>
</body>
</html>
